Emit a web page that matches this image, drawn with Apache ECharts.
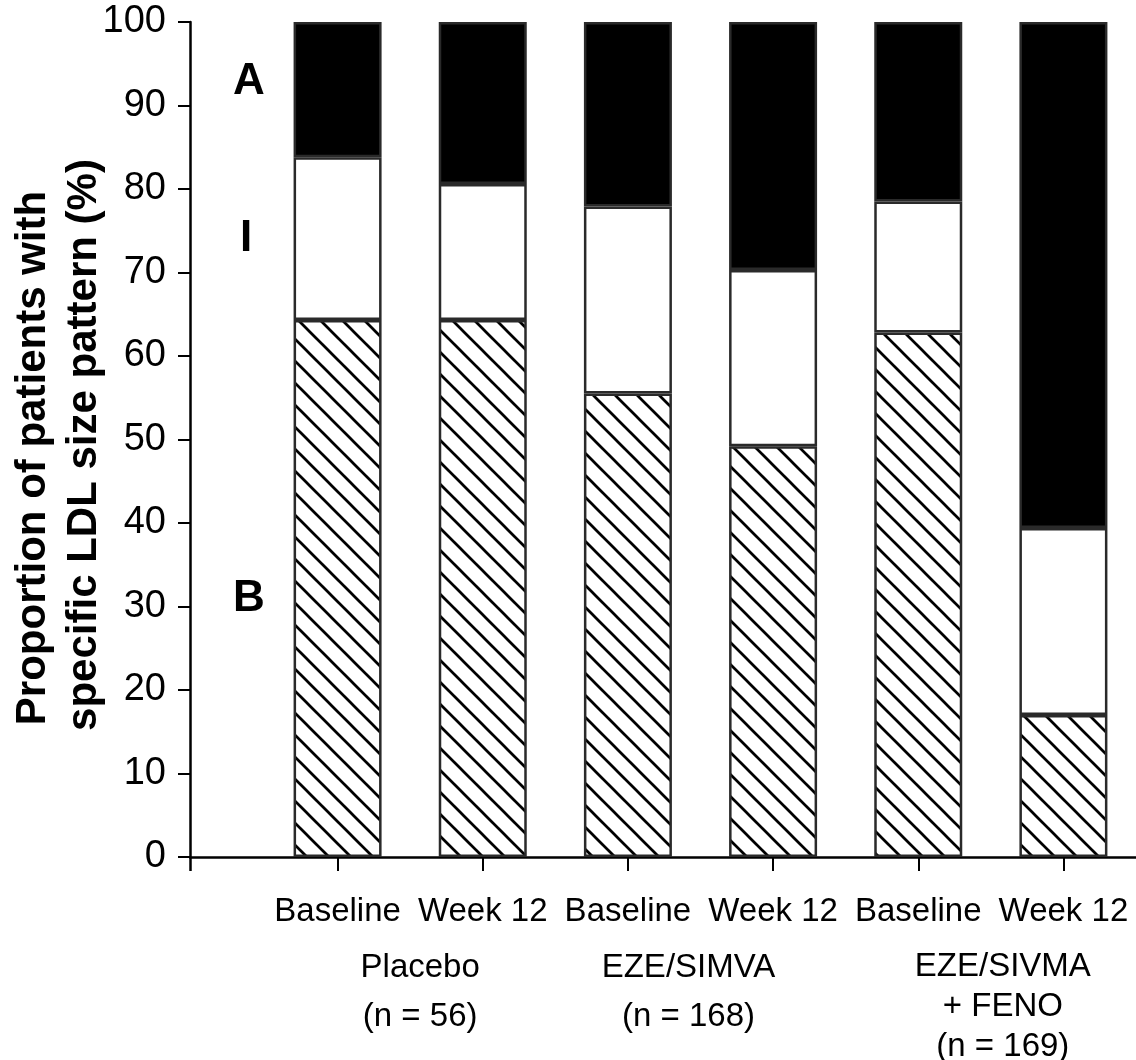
<!DOCTYPE html>
<html>
<head>
<meta charset="utf-8">
<script src="https://cdn.jsdelivr.net/npm/echarts@6/dist/echarts.min.js"></script>
<style>
html,body{margin:0;padding:0;background:#fff;}
#chart{width:1136px;height:1060px;}
</style>
</head>
<body>
<div id="chart"></div>
<script>
// ---- data ----
var categories = ['Baseline', 'Week 12', 'Baseline', 'Week 12', 'Baseline', 'Week 12'];
var groupLabels = ['Placebo\n(n = 56)', 'EZE/SIMVA\n(n = 168)', 'EZE/SIVMA\n+ FENO\n(n = 169)'];
var patternB = [64.3, 64.3, 55.5, 49.2, 62.8, 17.0];   // hatched, bottom
var patternI = [19.5, 16.3, 22.4, 21.1, 15.7, 22.4];   // white, middle
var patternA = [16.2, 19.4, 22.1, 29.7, 21.5, 60.6];   // black, top
var yTicks = [0, 10, 20, 30, 40, 50, 60, 70, 80, 90, 100];

var FONT = "'Liberation Sans', Arial, Helvetica, sans-serif";

// hatch pattern ("\" diagonal lines)
function makeHatch() {
  var s = 22;
  var c = document.createElement('canvas');
  c.width = s; c.height = s;
  var ctx = c.getContext('2d');
  ctx.fillStyle = '#fff';
  ctx.fillRect(0, 0, s, s);
  ctx.strokeStyle = '#000';
  ctx.lineWidth = 2.7;
  [-s, 0, s].forEach(function (o) {
    ctx.beginPath();
    ctx.moveTo(o - 2, -2);
    ctx.lineTo(o + s + 2, s + 2);
    ctx.stroke();
  });
  return c;
}

var chart = echarts.init(document.getElementById('chart'), null, {renderer: 'canvas'});
var border = {borderColor: '#2a2a2a', borderWidth: 2.5};

var option = {
  backgroundColor: '#fff',
  animation: false,
  grid: [
    {left: 265, right: 0, top: 22, bottom: 203, outerBoundsMode: 'none'},
    {left: 190, right: 0, top: 22, bottom: 203, outerBoundsMode: 'none'}
  ],
  xAxis: [
    {
      type: 'category', gridIndex: 0, data: categories,
      axisLine: {show: false},
      axisTick: {show: true, alignWithLabel: true, length: 14, lineStyle: {color: '#000', width: 2}},
      axisLabel: {color: '#000', fontFamily: FONT, fontSize: 33, margin: 35, lineHeight: 40, interval: 0}
    },
    {
      type: 'category', gridIndex: 0, position: 'bottom',
      data: [
        {value: groupLabels[0], textStyle: {padding: [0, 0, 0, 20]}},
        {value: groupLabels[1], textStyle: {padding: [0, 24, 0, 0]}},
        {value: groupLabels[2], textStyle: {padding: [4, 0, 0, 24], lineHeight: 40}}
      ],
      axisLine: {show: false}, axisTick: {show: false},
      axisLabel: {color: '#000', fontFamily: FONT, fontSize: 33, margin: 86, lineHeight: 49, interval: 0}
    },
    {
      type: 'value', gridIndex: 1, min: 0, max: 1, interval: 1,
      axisLine: {show: true, lineStyle: {color: '#000', width: 2.5}},
      axisTick: {show: true, customValues: [0], length: 14, lineStyle: {color: '#000', width: 2.5}},
      axisLabel: {show: false}, splitLine: {show: false}
    }
  ],
  yAxis: [
    {type: 'value', gridIndex: 0, min: 0, max: 100, show: false},
    {
      type: 'value', gridIndex: 1, min: 0, max: 100, interval: 10,
      axisLine: {show: true, lineStyle: {color: '#000', width: 2.5}},
      axisTick: {show: true, length: 12, lineStyle: {color: '#000', width: 2}},
      axisLabel: {color: '#000', fontFamily: FONT, fontSize: 38, margin: 24},
      splitLine: {show: false}
    }
  ],
  series: [
    {name: 'B', type: 'bar', stack: 'p', xAxisIndex: 0, yAxisIndex: 0, barWidth: 88, data: patternB,
     itemStyle: Object.assign({color: {image: makeHatch(), repeat: 'repeat'}}, border)},
    {name: 'I', type: 'bar', stack: 'p', xAxisIndex: 0, yAxisIndex: 0, barWidth: 88, data: patternI,
     itemStyle: Object.assign({color: '#fff'}, border)},
    {name: 'A', type: 'bar', stack: 'p', xAxisIndex: 0, yAxisIndex: 0, barWidth: 88, data: patternA,
     itemStyle: Object.assign({color: '#000'}, border)}
  ],
  graphic: [
    {type: 'text', x: 33, y: 458, rotation: Math.PI / 2,
     style: {text: 'Proportion of patients with', font: 'bold 42px ' + FONT, fill: '#000', textAlign: 'center', textVerticalAlign: 'middle'}},
    {type: 'text', x: 84, y: 445, rotation: Math.PI / 2,
     style: {text: 'specific LDL size pattern (%)', font: 'bold 42px ' + FONT, fill: '#000', textAlign: 'center', textVerticalAlign: 'middle'}},
    {type: 'text', x: 249, y: 82, style: {text: 'A', font: 'bold 44px ' + FONT, fill: '#000', textAlign: 'center', textVerticalAlign: 'middle'}},
    {type: 'text', x: 246, y: 239, style: {text: 'I', font: 'bold 44px ' + FONT, fill: '#000', textAlign: 'center', textVerticalAlign: 'middle'}},
    {type: 'text', x: 249, y: 599, style: {text: 'B', font: 'bold 44px ' + FONT, fill: '#000', textAlign: 'center', textVerticalAlign: 'middle'}}
  ]
};
chart.setOption(option);
</script>
</body>
</html>
